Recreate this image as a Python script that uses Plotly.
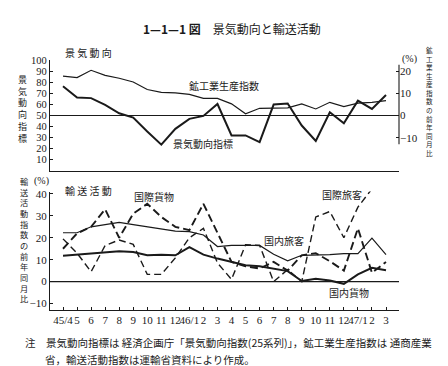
import plotly.graph_objects as go

# ---------------- data ----------------
months = ["45/4", "5", "6", "7", "8", "9", "10", "11", "12", "46/1", "2", "3",
          "4", "5", "6", "7", "8", "9", "10", "11", "12", "47/1", "2", "3"]
# upper panel
di_index = [76.6, 66.4, 65.8, 59.6, 52.1, 48.2, 35.6, 23.7, 38.0, 47.0, 49.7, 60.5,
            32.0, 32.0, 26.0, 60.0, 61.0, 41.0, 27.0, 53.0, 43.0, 63.5, 56.0, 68.6]
ip_yoy = [17.9, 17.2, 20.5, 18.2, 16.9, 15.2, 11.8, 10.5, 10.3, 9.6, 7.8, 7.8,
          5.3, 0.8, 3.3, 3.5, 3.5, 5.3, 3.0, 6.0, 4.1, 5.6, 6.0, 6.8]
# lower panel (% change from same month of previous year)
intl_cargo = [15.0, 22.0, 25.0, 33.0, 20.0, 31.0, 35.5, 29.5, 25.0, 23.5, 35.5, 22.0,
              9.0, 7.0, 6.0, 9.0, 5.0, 12.0, 13.0, 9.3, 5.0, 24.3, 4.0, 9.0]
intl_pass = [19.5, 13.0, 4.5, 16.5, 19.0, 17.0, 3.3, 3.3, 10.8, 20.0, 24.3, 8.5,
             1.0, 16.8, 16.5, 0.0, 5.5, 0.0, 29.5, 32.0, 20.0, 34.0, 42.3, 41.6]
dom_pass = [22.3, 22.3, 25.0, 26.0, 27.0, 26.0, 25.0, 24.0, 23.0, 22.8, 21.3, 16.0,
            16.5, 16.5, 16.5, 12.5, 9.5, 12.0, 12.0, 12.3, 12.8, 12.8, 19.8, 12.3]
dom_cargo = [11.8, 12.3, 12.7, 13.0, 13.8, 13.5, 12.0, 12.3, 12.0, 15.7, 12.3, 10.5,
             9.0, 7.5, 7.0, 6.0, 4.8, 0.3, 1.3, 0.5, -1.0, 3.3, 6.3, 5.2]

left_ticks = [10, 20, 30, 40, 50, 60, 70, 80, 90, 100]
right_ticks = [-10, 0, 10, 20]
low_ticks = [-10, 0, 10, 20, 30, 40]

W, H = 448, 366
JP = "Noto Sans CJK JP"
NUM = "Liberation Serif"
INK = "#1a1a1a"

def fx(px):
    return px / W

def fy(py):
    return 1 - py / H

x = list(range(len(months)))
xr = [-0.926, 23.926]

fig = go.Figure()

# upper panel
fig.add_trace(go.Scatter(x=x, y=di_index, mode="lines", xaxis="x", yaxis="y",
                         line=dict(color=INK, width=2.0), showlegend=False))
fig.add_trace(go.Scatter(x=x, y=ip_yoy, mode="lines", xaxis="x", yaxis="y2",
                         line=dict(color=INK, width=1.2), showlegend=False))
# lower panel
fig.add_trace(go.Scatter(x=x, y=intl_cargo, mode="lines", xaxis="x2", yaxis="y3",
                         line=dict(color=INK, width=1.9, dash="8px,4px"), showlegend=False))
fig.add_trace(go.Scatter(x=x, y=intl_pass, mode="lines", xaxis="x2", yaxis="y3",
                         line=dict(color=INK, width=1.4, dash="7px,4px"), showlegend=False))
fig.add_trace(go.Scatter(x=x, y=dom_pass, mode="lines", xaxis="x2", yaxis="y3",
                         line=dict(color=INK, width=1.2), showlegend=False))
fig.add_trace(go.Scatter(x=x, y=dom_cargo, mode="lines", xaxis="x2", yaxis="y3",
                         line=dict(color=INK, width=2.0), showlegend=False))

up_dom = [fy(160), fy(48)]
low_dom = [fy(301), fy(181)]
xdom = [fx(42), fx(391)]

fig.update_layout(
    width=W, height=H, margin=dict(l=0, r=0, t=0, b=0),
    paper_bgcolor="white", plot_bgcolor="rgba(0,0,0,0)",
    xaxis=dict(domain=xdom, range=xr, showgrid=False, zeroline=False,
               showticklabels=False, ticks="", showline=True, linecolor=INK,
               linewidth=1.2, anchor="y"),
    yaxis=dict(domain=up_dom, range=[0, 100], tickvals=left_ticks,
               ticktext=[str(v) for v in left_ticks], showgrid=False, zeroline=False,
               showline=True, linecolor=INK, linewidth=1.2, ticks="inside",
               ticklen=3, tickcolor=INK, tickfont=dict(family=NUM, size=10.5, color=INK),
               anchor="x"),
    yaxis2=dict(domain=up_dom, range=[-25, 25], overlaying="y", side="right",
                tickvals=right_ticks, ticktext=["−10", "0", "10", "20"],
                showgrid=False, zeroline=False, showline=False, ticks="inside",
                ticklen=3, tickcolor=INK, tickfont=dict(family=NUM, size=11, color=INK),
                anchor="x"),
    xaxis2=dict(domain=xdom, range=xr, tickvals=x, ticktext=months, showgrid=False,
                zeroline=False, showline=True, linecolor=INK, linewidth=1.2,
                ticks="inside", ticklen=3, tickcolor=INK, tickangle=0,
                tickfont=dict(family=NUM, size=11, color=INK), anchor="y3"),
    yaxis3=dict(domain=low_dom, range=[-12.9, 41.1], tickvals=low_ticks,
                ticktext=["−10", "0", "10", "20", "30", "40"], showgrid=False,
                zeroline=False, showline=True, linecolor=INK, linewidth=1.2,
                ticks="inside", ticklen=3, tickcolor=INK,
                tickfont=dict(family=NUM, size=11, color=INK), anchor="x2"),
)

shapes = []
# 50 line in upper panel
shapes.append(dict(type="line", xref="paper", yref="y", x0=xdom[0], x1=xdom[1],
                   y0=50, y1=50, line=dict(color=INK, width=1.1)))
# right axis line
shapes.append(dict(type="line", xref="paper", yref="y2", x0=xdom[1], x1=xdom[1],
                   y0=-13, y1=23, line=dict(color=INK, width=1.1)))
# zero line lower panel
shapes.append(dict(type="line", xref="paper", yref="y3", x0=xdom[0], x1=xdom[1],
                   y0=0, y1=0, line=dict(color=INK, width=1.1)))
fig.update_layout(shapes=shapes)

ann = []

def text(px, py, s, size=11, family=JP, xanchor="center"):
    ann.append(dict(x=fx(px), y=fy(py), xref="paper", yref="paper", text=s,
                    showarrow=False, xanchor=xanchor, yanchor="middle",
                    font=dict(family=family, size=size, color=INK)))

def vtext(px, pymid, s, size=10):
    # vertical (top-to-bottom) label as one stacked text block
    text(px, pymid, "<br>".join(s), size=size)

text(224, 16, "<b>1—1—1 図</b>　景気動向と輸送活動", size=12)
text(80, 40, "景 気 動 向", size=10)
text(80, 180, "輸 送 活 動", size=10)
vtext(14.5, 97, "景気動向指標", size=9)
vtext(421, 90, "鉱工業生産指数の前年同月比", size=6.6)
vtext(16, 230, "輸送活動指数の前年同月比", size=8.2)
text(401, 47, "(%)", size=10, family=NUM)
text(33, 170, "(%)", size=10, family=NUM)
text(216, 74, "鉱工業生産指数", size=10)
text(195, 132, "景気動向指標", size=10)
text(146, 186, "国際貨物", size=10)
text(334, 184, "国際旅客", size=10)
text(276, 231, "国内旅客", size=10)
text(341, 283, "国内貨物", size=10)
text(15, 334, "注　景気動向指標は 経済企画庁「景気動向指数(25系列)」，鉱工業生産指数は 通商産業", size=10.5, xanchor="left")
text(35, 351, "省，輸送活動指数は運輸省資料により作成。", size=10.5, xanchor="left")
fig.update_layout(annotations=ann)

fig.write_html("out.html")
